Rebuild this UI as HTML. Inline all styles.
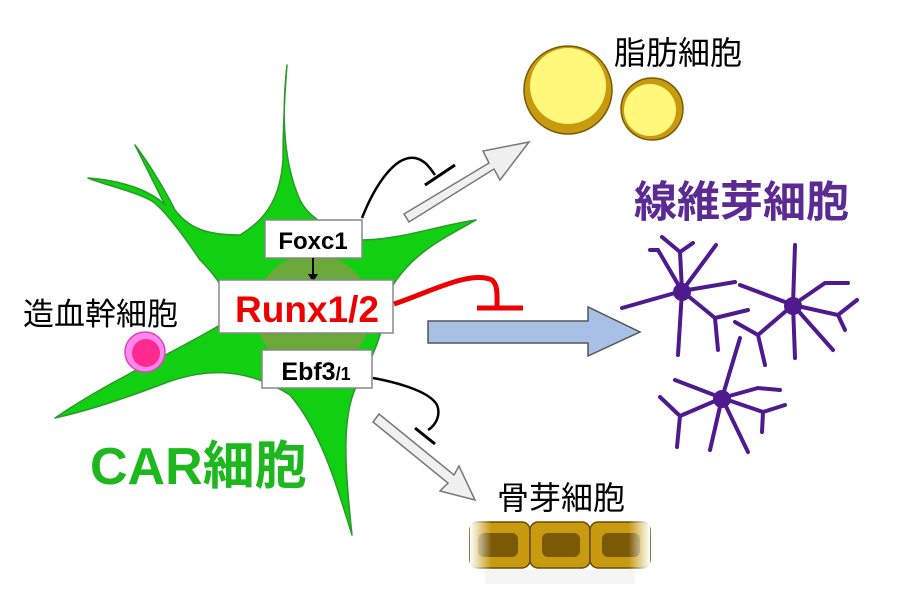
<!DOCTYPE html>
<html><head><meta charset="utf-8"><style>
html,body{margin:0;padding:0;background:#fff;}
svg{display:block;}
text{font-family:"Liberation Sans","Noto Sans CJK JP",sans-serif;}
</style></head><body>
<svg width="900" height="607" viewBox="0 0 900 607" xmlns="http://www.w3.org/2000/svg">
<defs>
<linearGradient id="ob" x1="0" x2="1">
<stop offset="0" stop-color="#fff" stop-opacity="1"/><stop offset="0.12" stop-color="#fff" stop-opacity="0"/>
<stop offset="0.88" stop-color="#fff" stop-opacity="0"/><stop offset="1" stop-color="#fff" stop-opacity="1"/>
</linearGradient>
</defs>
<g fill="#11d011" stroke="#2a9a2a" stroke-width="1.5" stroke-linejoin="round">
<path d="M287,65 C282,110 282,160 300,200 C310,220 330,228 360,240 C400,240 440,225 476,220 C440,240 410,255 390,290 C385,320 380,345 360,380 C340,410 345,470 352,535 C335,480 320,430 290,395 C250,370 210,365 160,385 C120,400 90,410 55,418 C110,380 170,355 220,325 C235,300 220,280 200,260 C180,230 160,205 150,200 C130,190 105,185 88,178 C120,180 150,190 165,205 C155,185 145,165 135,145 C150,165 165,190 175,210 C190,230 210,235 240,235 C265,220 280,200 283,160 C283,120 285,90 287,65 Z"/>
</g>
<ellipse cx="313" cy="312" rx="58" ry="58" fill="#6aa83a"/>
<rect x="265" y="220" width="97" height="38" fill="#fff" stroke="#888" stroke-width="1.5"/>
<text x="313" y="249" font-size="24" font-weight="bold" text-anchor="middle">Foxc1</text>
<line x1="313" y1="258" x2="313" y2="276" stroke="#000" stroke-width="2"/>
<path d="M308,274 L318,274 L313,282 Z"/>
<rect x="219" y="280" width="174" height="53" fill="#fff" stroke="#888" stroke-width="1.5"/>
<text x="307" y="322" font-size="37" font-weight="bold" fill="#ee0000" text-anchor="middle">Runx1/2</text>
<rect x="262" y="350" width="110" height="38" fill="#fff" stroke="#888" stroke-width="1.5"/>
<text x="316" y="380" font-size="25" font-weight="bold" text-anchor="middle">Ebf3<tspan font-size="18">/1</tspan></text>
<circle cx="145" cy="352" r="20" fill="#ff88ee" stroke="#e040c0" stroke-width="1.5"/>
<circle cx="146" cy="353" r="14" fill="#ff2a90"/>
<text x="23" y="325" font-size="31">造血幹細胞</text>
<text x="90" y="484" font-size="52" font-weight="bold" fill="#1db81d">CAR細胞</text>
<path d="M394,304 C430,292 470,270 492,280 C498,285 497,295 497,306" fill="none" stroke="#ee0000" stroke-width="5"/>
<line x1="477" y1="308" x2="523" y2="308" stroke="#ee0000" stroke-width="5"/>
<path d="M428,321 L588,321 L588,307 L640,332 L588,356 L588,343 L428,343 Z" fill="#a9c0e6" stroke="#555" stroke-width="1.5"/>
<path d="M404,214 L489,163 L483,151 L529,142 L500,180 L494,169 L409,222 Z" fill="#f0f0f0" stroke="#777" stroke-width="1.5"/>
<path d="M362,218 C375,185 395,155 415,158 C425,160 430,168 435,175" fill="none" stroke="#000" stroke-width="2.5"/>
<line x1="425" y1="185" x2="455" y2="165" stroke="#000" stroke-width="3"/>
<path d="M373,422 L379,414 L454,475 L459,466 L475,500 L440,491 L448,483 Z" fill="#f0f0f0" stroke="#777" stroke-width="1.5"/>
<path d="M373,378 C400,383 430,392 437,405 C441,415 436,425 428,430" fill="none" stroke="#000" stroke-width="2.5"/>
<line x1="415" y1="428" x2="435" y2="444" stroke="#000" stroke-width="3"/>
<circle cx="568" cy="90" r="44" fill="#c89a10" stroke="#7a5a00" stroke-width="1.5"/>
<circle cx="568" cy="86" r="38" fill="#fff87a"/>
<circle cx="652" cy="109" r="31" fill="#c89a10" stroke="#7a5a00" stroke-width="1.5"/>
<circle cx="650" cy="110" r="26" fill="#fff87a"/>
<text x="614" y="64" font-size="32">脂肪細胞</text>
<text x="634" y="217" font-size="43" font-weight="bold" fill="#5b2a92">線維芽細胞</text>
<g stroke="#4f1a8e" stroke-width="4" stroke-linecap="round" fill="none">
<path d="M682,291 L622,308 M682,291 L658,250 L650,250 M682,291 L680,252 L662,237 M680,252 L693,243 M682,291 L716,245 M682,291 L735,282 M682,291 L715,318 L718,350 M715,318 L748,310 M682,291 L678,355"/>
<path d="M793,305 L740,285 M793,305 L795,245 M793,305 L825,283 L848,283 M793,305 L838,315 L845,330 M838,315 L857,300 M793,305 L833,350 M793,305 L795,358 M793,305 L758,335 L765,365 M758,335 L735,322"/>
<path d="M722,398 L675,380 M722,398 L740,338 M722,398 L758,388 L780,390 M722,398 L763,412 L762,432 M763,412 L785,405 M722,398 L748,452 M722,398 L710,450 M722,398 L680,416 L677,447 M680,416 L660,397"/>
</g>
<g fill="#4f1a8e"><circle cx="682" cy="292" r="9"/><circle cx="793" cy="306" r="9"/><circle cx="722" cy="399" r="9"/></g>
<text x="497" y="509" font-size="32">骨芽細胞</text>
<g stroke="#6a4a00" stroke-width="1.5">
<rect x="470" y="522" width="60" height="46" rx="8" fill="#c89a10"/>
<rect x="530" y="522" width="60" height="46" rx="8" fill="#c89a10"/>
<rect x="590" y="522" width="60" height="46" rx="8" fill="#c89a10"/>
<rect x="478" y="533" width="40" height="24" rx="6" fill="#7a5a05" stroke="none"/>
<rect x="542" y="533" width="38" height="24" rx="6" fill="#7a5a05" stroke="none"/>
<rect x="602" y="533" width="38" height="24" rx="6" fill="#7a5a05" stroke="none"/>
</g>
<rect x="470" y="520" width="180" height="50" fill="url(#ob)"/>
<rect x="485" y="570" width="150" height="14" fill="#eee" opacity="0.6"/>
</svg>
</body></html>
